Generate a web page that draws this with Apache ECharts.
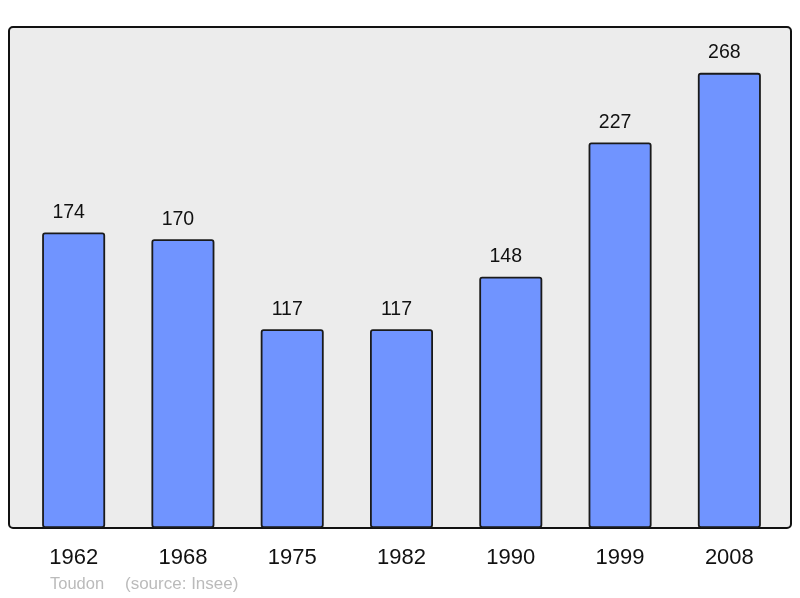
<!DOCTYPE html>
<html><head><meta charset="utf-8">
<script src="https://cdn.jsdelivr.net/npm/echarts@6/dist/echarts.min.js"></script>
<style>html,body{margin:0;padding:0;background:#fff}#c{width:800px;height:598px}</style>
</head><body><div id="c"></div>
<script>
const years = ['1962','1968','1975','1982','1990','1999','2008'];
const population = [174,170,117,117,148,227,268];
const placeName = 'Toudon';
const sourceText = '(source: Insee)';

const chart = echarts.init(document.getElementById('c'), null, {renderer:'canvas'});
chart.setOption({
  animation:false,
  backgroundColor:'#ffffff',
  grid:{left:19,right:16,top:27,bottom:70,containLabel:false},
  graphic:[
    {type:'rect',z:-10,shape:{x:9,y:27,width:782,height:501,r:4},
     style:{fill:'#ececec',stroke:'#111',lineWidth:2}},
    {type:'text',left:50,top:576,style:{text:placeName,fill:'#bbbbbb',font:'16.5px "Liberation Sans", Arial, sans-serif'}},
    {type:'text',left:125,top:576,style:{text:sourceText,fill:'#bbbbbb',font:'17px "Liberation Sans", Arial, sans-serif'}}
  ],
  xAxis:{type:'category',data:years,
    axisLine:{show:false},axisTick:{show:false},
    axisLabel:{color:'#111',fontSize:22,fontFamily:'Liberation Sans, Arial, sans-serif',margin:19}},
  yAxis:{type:'value',min:0,max:295,show:false,splitLine:{show:false}},
  series:[{type:'bar',data:population,barWidth:63,
    itemStyle:{color:'#7094ff',borderColor:'#1a1a1a',borderWidth:1.8,borderRadius:2},
    label:{show:true,position:'top',distance:10,offset:[-5,0],color:'#111',fontSize:19.5,fontFamily:'Liberation Sans, Arial, sans-serif'}}]
});
</script></body></html>
